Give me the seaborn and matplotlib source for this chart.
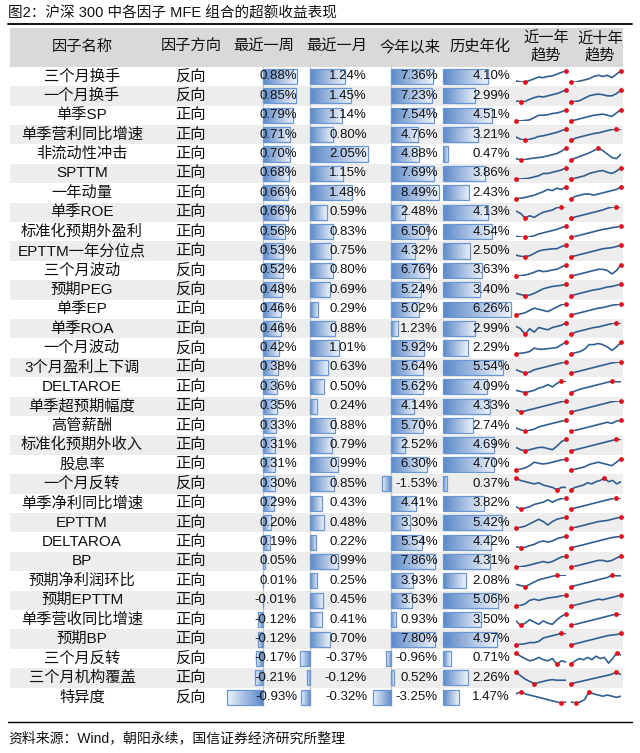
import numpy as np
import matplotlib
matplotlib.use("Agg")
import matplotlib.pyplot as plt
import matplotlib.transforms as mtransforms
from matplotlib.colors import LinearSegmentedColormap
from matplotlib.lines import Line2D
import seaborn as sns

# -----------------------------
# DATA
# -----------------------------
factors = ["三个月换手", "一个月换手", "单季SP", "单季营利同比增速", "非流动性冲击", "SPTTM",
           "一年动量", "单季ROE", "标准化预期外盈利", "EPTTM一年分位点", "三个月波动", "预期PEG",
           "单季EP", "单季ROA", "一个月波动", "3个月盈利上下调", "DELTAROE", "单季超预期幅度",
           "高管薪酬", "标准化预期外收入", "股息率", "一个月反转", "单季净利同比增速", "EPTTM",
           "DELTAROA", "BP", "预期净利润环比", "预期EPTTM", "单季营收同比增速", "预期BP",
           "三个月反转", "三个月机构覆盖", "特异度"]
directions = ["反向", "反向", "正向", "正向", "正向", "正向", "正向", "正向", "正向", "正向", "反向",
              "反向", "正向", "正向", "反向", "正向", "正向", "正向", "正向", "正向", "正向", "反向",
              "正向", "正向", "正向", "正向", "正向", "正向", "正向", "正向", "反向", "正向", "反向"]
week = [0.88, 0.85, 0.79, 0.71, 0.70, 0.68, 0.66, 0.66, 0.56, 0.53, 0.52, 0.48, 0.46, 0.46, 0.42,
        0.38, 0.36, 0.35, 0.33, 0.31, 0.31, 0.30, 0.29, 0.20, 0.19, 0.05, 0.01, -0.01, -0.12, -0.12,
        -0.17, -0.21, -0.93]
month = [1.24, 1.45, 1.14, 0.80, 2.05, 1.15, 1.48, 0.59, 0.83, 0.75, 0.80, 0.69, 0.29, 0.88, 1.01,
         0.63, 0.50, 0.24, 0.88, 0.79, 0.99, 0.85, 0.43, 0.48, 0.22, 0.99, 0.25, 0.45, 0.41, 0.70,
         -0.37, -0.12, -0.32]
ytd = [7.36, 7.23, 7.54, 4.76, 4.88, 7.69, 8.49, 2.48, 6.50, 4.32, 6.76, 5.24, 5.02, 1.23, 5.92,
       5.64, 5.62, 4.14, 5.70, 2.52, 6.30, -1.53, 4.41, 3.30, 5.54, 7.86, 3.93, 3.63, 0.93, 7.80,
       -0.96, 0.52, -3.25]
hist = [4.10, 2.99, 4.51, 3.21, 0.47, 3.86, 2.43, 4.13, 4.54, 2.50, 3.63, 3.40, 6.26, 2.99, 2.29,
        5.54, 4.09, 4.33, 2.74, 4.69, 4.70, 0.37, 3.82, 5.42, 4.42, 4.31, 2.08, 5.06, 3.50, 4.97,
        0.71, 2.26, 1.47]

# sparkline shapes (relative level, 0 = low, 10 = high)
trend_1y = [
    [1, 0.3, 0, 1.5, 3, 4.5, 4, 5, 5.5, 7, 8.5, 10],
    [0.5, 0, 0, 2, 3.5, 4.5, 4, 5, 6, 7, 8.5, 10],
    [0, 0, 0.5, 1, 3, 5, 5, 5.5, 6.5, 7, 8, 10],
    [3, 1, 0, 1, 2, 3.5, 4, 5, 6, 7, 8.5, 10],
    [1, 0, 0.2, 1, 1.5, 2, 2.5, 3.5, 4.5, 5.5, 7.5, 10],
    [0, 0.2, 0.5, 1, 2, 3, 5, 5, 6, 7, 8, 10],
    [0, 0.3, 1, 2, 3, 4.5, 6, 8, 7, 9, 8, 10],
    [6, 4, 0, 2, 0.5, 3, 5, 6, 7, 9, 10, 10],
    [1, 0.3, 0, 0.5, 1.5, 3, 4, 5, 6, 7, 8.5, 10],
    [1.5, 0.5, 0, 1, 3, 5, 6, 6.5, 7, 7, 9, 10],
    [0, 0.5, 1, 2, 3.5, 5, 4, 4.5, 5.5, 6, 8, 10],
    [2, 1, 0, 0.5, 2, 4, 6, 7, 8, 8.5, 9, 10],
    [0, 1, 2, 4, 6, 5, 4, 3, 5, 7, 9, 10],
    [7, 5, 0, 5, 2, 6, 5, 4, 6, 7, 8, 10],
    [0, 0.5, 1, 2, 5, 4, 4, 4.5, 5, 5.5, 8, 10],
    [3, 1.5, 0, 1, 3, 4, 5, 6, 7, 8, 9, 10],
    [2, 1, 0, 1, 2, 4, 5, 7, 5, 8, 10, 10],
    [2, 0, 1, 2, 3, 4, 5, 6, 7, 8, 9, 10],
    [3, 1.5, 0, 1, 2, 4, 5, 6, 7, 8, 9, 10],
    [3, 1, 0, 1, 2, 3, 3, 2, 1, 4, 8, 10],
    [0, 1, 2, 4, 7, 6, 5.5, 6, 7, 8, 9, 10],
    [10, 8, 7, 6, 5, 6, 4, 3, 2, 0, 2, 2],
    [2, 0, 1, 2, 4, 5, 6, 8, 6, 8, 9, 10],
    [0, 1, 2, 4, 6, 8, 6, 3, 6, 8, 9, 10],
    [1, 0, 0.5, 2, 3, 5, 6, 5, 6, 8, 9, 10],
    [0, 0.5, 1, 2, 3, 4, 5, 4, 5, 7, 9, 10],
    [2, 1, 0, 2, 4, 6, 7, 8, 9, 10, 10, 10],
    [0, 0.5, 2, 5, 6, 5, 6, 7, 7.5, 8, 9, 10],
    [4, 0, 2, 5, 3, 1, 4, 2, 1, 5, 8, 10],
    [0, 0.5, 1, 2, 2, 3, 6, 7, 8, 9, 10, 10],
    [10, 7, 5, 3, 4, 6, 4, 3, 5, 0, 3, 2],
    [10, 7, 4, 2, 0, 1, 2, 3, 3.5, 3, 3, 3],
    [8, 10, 8, 7, 6, 5, 4, 3, 2, 1, 0, 1],
]
trend_10y = [
    [0, 0, 1, 2, 3, 5, 6, 5, 6, 4, 7, 10],
    [0, 0, 1, 3, 5, 6, 6.5, 6, 5, 5, 7, 10],
    [0, 1, 2, 3, 4, 5, 5.5, 6, 5, 4, 7, 10],
    [0, 2, 3, 4, 5, 6, 6.5, 7.5, 8.5, 9.5, 10, 9.5],
    [0, 1.5, 3, 4.5, 6, 8, 10, 8, 5, 2, 1, 5],
    [0, 1, 2, 3, 5, 6, 7, 7.5, 6, 5, 7, 10],
    [0, 2, 3, 4, 4, 3, 4, 5, 6, 7, 8, 10],
    [0, 1, 2, 3, 4, 5, 6, 7, 8.5, 9.5, 10, 9.8],
    [0, 1, 2, 3, 4, 5, 6, 7, 7.5, 8.5, 9, 10],
    [0, 1, 2, 3, 4, 5, 6, 7, 7.5, 8, 9, 10],
    [0, 1, 2, 3, 4, 5, 6, 6, 5, 2, 5, 10],
    [0, 1, 2, 3, 4, 5, 5.5, 6.5, 7.5, 8, 9, 10],
    [0, 1, 2, 3, 4, 5, 6, 6.5, 7.5, 8.5, 9, 10],
    [0, 2, 3, 4, 5, 6, 6.5, 7.5, 8.5, 9.5, 10, 9.8],
    [0, 1, 2, 4, 8, 8, 9, 8, 6, 3, 6, 10],
    [0, 1, 2, 3, 4, 5, 6, 7, 8, 9, 9.5, 10],
    [0, 1.5, 3, 4, 5, 6, 7, 8, 9, 10, 9.5, 9.5],
    [0, 1, 2, 3, 4, 5, 6, 7, 8, 9, 9.5, 10],
    [0, 1, 2, 3, 4, 5, 6, 7, 8, 7, 9, 10],
    [0, 1, 2, 3, 4, 5, 6, 7, 8, 9, 10, 10],
    [0, 1, 2, 3, 5, 6, 7, 6, 5, 4, 7, 10],
    [0, 2, 3, 4, 6, 5, 7, 8, 10, 7, 8, 5, 7],
    [0, 1, 2, 3, 4, 5, 6, 7, 8, 9, 10, 9.5],
    [0, 1, 2, 3, 4, 5, 6, 6.5, 7, 8, 9, 10],
    [0, 1, 2, 3, 4, 5, 6, 7, 8, 9, 9.5, 10],
    [0, 1, 2, 3, 4, 5, 6, 6, 5, 6, 8, 10],
    [0, 1, 2, 3, 4, 5, 6, 7, 8, 10, 9.5, 9.5],
    [0, 1, 2, 3, 4, 5, 6, 5.5, 6.5, 7.5, 8.5, 10],
    [0, 1, 2, 3, 4, 5, 6, 7, 8, 9, 10, 9.8],
    [0, 1, 2, 3, 4, 5, 6, 7, 8, 8.5, 9, 10],
    [0, 3, 5, 4, 6, 4, 7, 5, 6, 1, 5, 10, 8],
    [0, 1, 2, 3, 4, 5, 6, 7, 8, 10, 8],
    [1, 0, 1, 3, 10, 8, 7, 6, 7, 6, 5, 6],
]

headers = ["因子名称", "因子方向", "最近一周", "最近一月", "今年以来", "历史年化", "近一年\n趋势", "近十年\n趋势"]

# -----------------------------
# LAYOUT / STYLE
# -----------------------------
sns.set_style("white")
plt.rcParams["font.family"] = ["Liberation Sans", "Noto Sans CJK SC"]

W, H = 640, 753
TOP, BOT = 66.7, 707.0
n = len(factors)
rh = (BOT - TOP) / n

TXT = "#111111"
BAR_DARK = "#5A88C8"
BAR_LIGHT = "#EEF3FB"
BAR_EDGE = "#6A97D3"
LINE = "#2F5F90"
DOT = "#E3101C"
bar_cmap = LinearSegmentedColormap.from_list("bar", [BAR_DARK, BAR_LIGHT])


def fx(px):
    return px / W


def fy(py):
    return 1 - py / H


fig = plt.figure(figsize=(6.4, 7.53), dpi=100)

# row backgrounds
bg = fig.add_axes([fx(10), fy(BOT), fx(623 - 10), (BOT - 28) / H])
bg.set_xlim(0, 1)
bg.set_ylim(BOT, 28)
bg.axis("off")
bg.axhspan(28, TOP, color="#D9D9D9", lw=0)
for i in range(n):
    if i % 2 == 1:
        bg.axhspan(TOP + i * rh, TOP + (i + 1) * rh, color="#EDEDED", lw=0)

# title + rules + source
fig.text(fx(8), fy(13), "图2：沪深 300 中各因子 MFE 组合的超额收益表现", fontsize=10.5, va="center", color=TXT)
fig.add_artist(Line2D([fx(8), fx(632)], [fy(24), fy(24)], color="black", lw=1.3))
fig.add_artist(Line2D([fx(8), fx(632)], [fy(722), fy(722)], color="black", lw=1.0))
fig.text(fx(8), fy(738), "资料来源：Wind，朝阳永续，国信证券经济研究所整理", fontsize=10, va="center", color=TXT)

# header
head_x = [82, 191, 264, 337, 410, 480, 546, 600]
for label, x in zip(headers, head_x):
    fig.text(fx(x), fy(47), label, ha="center", va="center", fontsize=11, color=TXT, linespacing=1.2)

# names / directions
for i in range(n):
    yc = fy(TOP + (i + 0.5) * rh)
    fig.text(fx(82), yc, factors[i], ha="center", va="center", fontsize=11, color=TXT)
    fig.text(fx(190), yc, directions[i], ha="center", va="center", fontsize=11, color=TXT)


# -----------------------------
# DATA BAR COLUMNS
# -----------------------------
def bar_column(vals, left, right, zero, scale, text_right):
    ax = fig.add_axes([fx(left), fy(BOT), fx(right - left), (BOT - TOP) / H])
    sns.barplot(x=vals, y=factors, orient="h", ax=ax, width=0.78, color=BAR_DARK,
                edgecolor=BAR_EDGE, linewidth=0.9, errorbar=None, zorder=2)
    grad = np.linspace(0, 1, 256).reshape(1, -1)
    for p in list(ax.patches):
        x0, w = p.get_x(), p.get_width()
        y0, h = p.get_y(), p.get_height()
        lo, hi = min(x0, x0 + w), max(x0, x0 + w)
        g = grad if w >= 0 else grad[:, ::-1]
        im = ax.imshow(g, extent=[lo, hi, y0 + h, y0], aspect="auto", cmap=bar_cmap,
                       vmin=0, vmax=1, zorder=1.5, interpolation="bilinear")
        im.set_clip_path(p)
        p.set_facecolor("none")
    if min(vals) < 0:
        ax.axvline(0, color="#C4C4C4", lw=0.9, zorder=1)
    ax.set_xlim((left - zero) / scale, (right - zero) / scale)
    ax.set_ylim(n - 0.5, -0.5)
    ax.axis("off")
    trans = mtransforms.blended_transform_factory(ax.transAxes, ax.transData)
    tx = (text_right - left) / (right - left)
    for i, v in enumerate(vals):
        ax.text(tx, i, f"{v:.2f}%", transform=trans, ha="right", va="center",
                fontsize=9.5, color=TXT, zorder=5)
    return ax


bar_column(week, 224, 300, 263, 38.6, 297)
bar_column(month, 298, 370, 310, 28.3, 367)
bar_column(ytd, 370, 441, 391, 5.65, 438)
bar_column(hist, 441, 513, 443, 10.86, 510)

# -----------------------------
# SPARKLINES
# -----------------------------
for i in range(n):
    for vals, left in ((trend_1y[i], 516), (trend_10y[i], 571)):
        top = TOP + i * rh + 4
        ax = fig.add_axes([fx(left), fy(top + 11.5), fx(50), 11.5 / H])
        xs = np.arange(len(vals))
        sns.lineplot(x=xs, y=vals, ax=ax, color=LINE, linewidth=1.2)
        imin, imax = int(np.argmin(vals)), int(np.argmax(vals))
        ax.scatter([imin, imax], [vals[imin], vals[imax]], s=12, color=DOT, zorder=3,
                   clip_on=False, linewidths=0)
        ax.set_xlim(0, len(vals) - 1)
        ax.set_ylim(min(vals), max(vals))
        ax.axis("off")

fig.savefig("out.png", dpi=100)
